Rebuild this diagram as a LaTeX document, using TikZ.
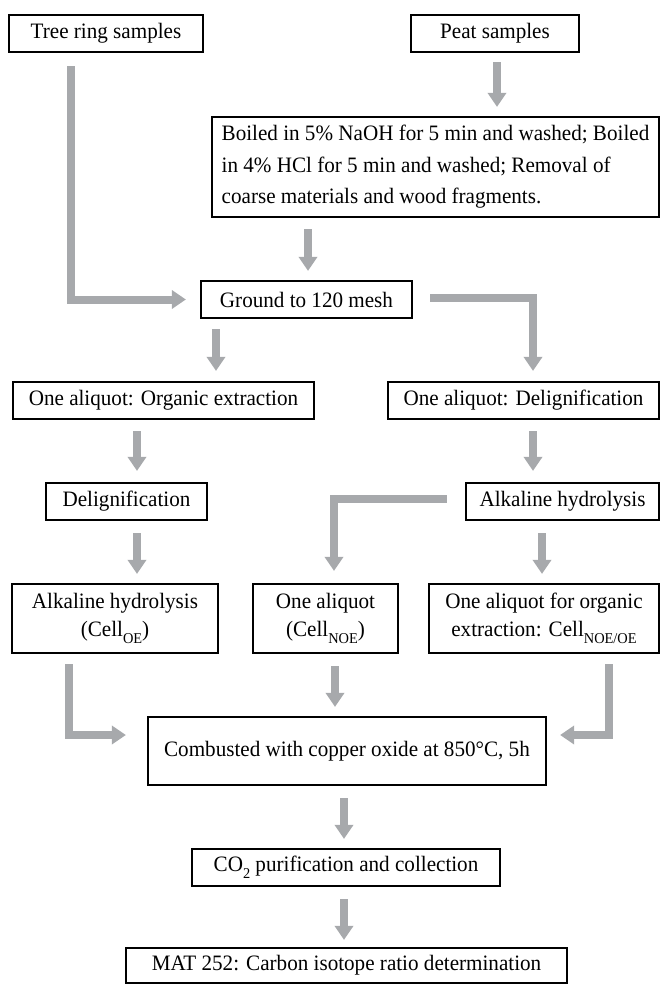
\documentclass[tikz,border=0pt]{standalone}
\usepackage{fontspec}
\setmainfont{Liberation Serif}[FakeStretch=0.96]
\usetikzlibrary{arrows.meta,calc}
\definecolor{arrgray}{RGB}{167,169,172}
\newcommand{\sbs}[1]{\raisebox{-0.3em}{\fontsize{15}{15}\selectfont #1}}
\begin{document}
\begin{tikzpicture}[x=1pt,y=-1pt,
  box/.style={draw=black,line width=2.2pt,fill=white,inner sep=0pt,
    font=\fontsize{22}{28}\selectfont,align=center},
  arr/.style={draw=arrgray,line width=8pt,line join=miter,
    -{Triangle[width=18pt,length=14pt]}},
]
\useasboundingbox (0,0) rectangle (661,984);
% columns for connectors
\coordinate (k71) at (71,0);
\coordinate (k497) at (497,0);
\coordinate (k308) at (308,0);
\coordinate (k533) at (533,0);
\coordinate (k216) at (216,0);
\coordinate (k137) at (137,0);
\coordinate (k542) at (542,0);
\coordinate (k334) at (334,0);
\coordinate (k69) at (69,0);
\coordinate (k335) at (335,0);
\coordinate (k609) at (609,0);
\coordinate (k344) at (344,0);

% boxes
\node[box,minimum width=194pt,minimum height=37pt] (tree) at (106,33.5) {Tree ring samples};
\node[box,minimum width=168pt,minimum height=37pt] (peat) at (495,33.5) {Peat samples};
\node[box,minimum width=447pt,minimum height=100pt,align=left,
  font=\fontsize{22}{31.5}\selectfont] (boil) at (435.5,167)
  {Boiled in 5\% NaOH for 5 min and washed; Boiled\\in 4\% HCl for 5 min and washed; Removal of\\coarse materials and wood fragments.};
\node[box,minimum width=211pt,minimum height=37pt] (ground) at (306.5,299.5) {Ground to 120 mesh};
\node[box,minimum width=301pt,minimum height=37pt] (org) at (163.5,400.5) {One aliquot: Organic extraction};
\node[box,minimum width=271pt,minimum height=37pt] (deli1) at (523.5,400.5) {One aliquot: Delignification};
\node[box,minimum width=161pt,minimum height=37pt] (delig) at (126.5,501.5) {Delignification};
\node[box,minimum width=193pt,minimum height=37pt] (alk1) at (562.5,501.5) {Alkaline hydrolysis};
\node[box,minimum width=206pt,minimum height=69pt] (alk2) at (115,618.5) {Alkaline hydrolysis\\(Cell\sbs{OE})};
\node[box,minimum width=145pt,minimum height=69pt] (one) at (325.5,618.5) {One aliquot\\(Cell\sbs{NOE})};
\node[box,minimum width=230pt,minimum height=69pt] (onefor) at (544,618.5) {One aliquot for organic\\extraction: Cell\sbs{NOE/OE}};
\node[box,minimum width=398pt,minimum height=68pt] (comb) at (347,751) {Combusted with copper oxide at 850°C, 5h};
\node[box,minimum width=308pt,minimum height=37pt] (co2) at (346,867.5) {CO\sbs{2} purification and collection};
\node[box,minimum width=441pt,minimum height=35pt] (mat) at (346.5,965.5) {MAT 252: Carbon isotope ratio determination};

% connectors
\draw[arr] ($(k497 |- peat.south)+(0,9)$) -- ($(k497 |- boil.north)+(0,-9)$);
\draw[arr] ($(k71 |- tree.south)+(0,13)$) -- (k71 |- ground.west) -- ($(ground.west)+(-14,0)$);
\draw[arr] ($(k308 |- boil.south)+(0,11)$) -- ($(k308 |- ground.north)+(0,-9)$);
\draw[arr] ($(ground.east)+(17,-2)$) -- ($(k533 |- ground.east)+(0,-2)$) -- ($(k533 |- deli1.north)+(0,-10)$);
\draw[arr] ($(k216 |- ground.south)+(0,10)$) -- ($(k216 |- org.north)+(0,-10)$);
\draw[arr] ($(k137 |- org.south)+(0,11)$) -- ($(k137 |- delig.north)+(0,-11)$);
\draw[arr] ($(k533 |- deli1.south)+(0,11)$) -- ($(k533 |- alk1.north)+(0,-11)$);
\draw[arr] ($(alk1.west)+(-18,-3)$) -- ($(k334 |- alk1.west)+(0,-3)$) -- ($(k334 |- one.north)+(0,-12)$);
\draw[arr] ($(k137 |- delig.south)+(0,12)$) -- ($(k137 |- alk2.north)+(0,-9)$);
\draw[arr] ($(k542 |- alk1.south)+(0,12)$) -- ($(k542 |- onefor.north)+(0,-9)$);
\draw[arr] ($(k69 |- alk2.south)+(0,10)$) -- ($(k69 |- comb.west)+(0,-16)$) -- ($(comb.west)+(-21,-16)$);
\draw[arr] ($(k335 |- one.south)+(0,12)$) -- ($(k335 |- comb.north)+(0,-9)$);
\draw[arr] ($(k609 |- onefor.south)+(0,10)$) -- ($(k609 |- comb.east)+(0,-16)$) -- ($(comb.east)+(13,-16)$);
\draw[arr] ($(k344 |- comb.south)+(0,12)$) -- ($(k344 |- co2.north)+(0,-9)$);
\draw[arr] ($(k344 |- co2.south)+(0,12)$) -- ($(k344 |- mat.north)+(0,-7)$);
\end{tikzpicture}
\end{document}
